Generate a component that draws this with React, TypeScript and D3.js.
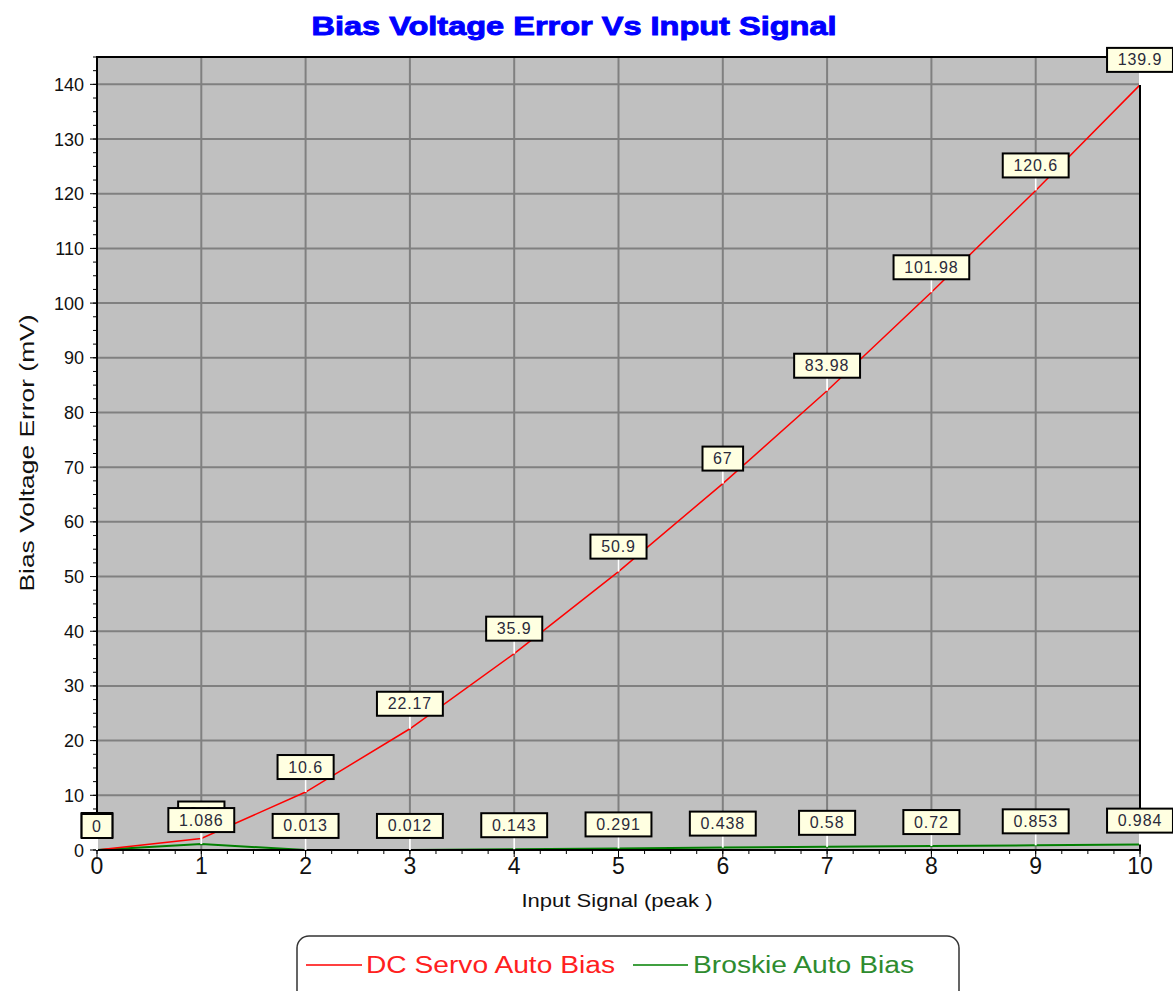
import React from "react";
import * as d3 from "d3";

const xValues = [0, 1, 2, 3, 4, 5, 6, 7, 8, 9, 10];
const dcServo = [0, 2.1, 10.6, 22.17, 35.9, 50.9, 67, 83.98, 101.98, 120.6, 139.9];
const dcServoLabels = ["0", "2.1", "10.6", "22.17", "35.9", "50.9", "67", "83.98", "101.98", "120.6", "139.9"];
const broskie = [0, 1.086, 0.013, 0.012, 0.143, 0.291, 0.438, 0.58, 0.72, 0.853, 0.984];
const broskieLabels = ["0", "1.086", "0.013", "0.012", "0.143", "0.291", "0.438", "0.58", "0.72", "0.853", "0.984"];
const yTicks = [0, 10, 20, 30, 40, 50, 60, 70, 80, 90, 100, 110, 120, 130, 140];
const xTicks = [0, 1, 2, 3, 4, 5, 6, 7, 8, 9, 10];

const W = 1173;
const H = 991;
const L = 97, R = 1140, T = 57, B = 850;

const x = d3.scaleLinear().domain([0, 10]).range([L, R]);
const y = d3.scaleLinear().domain([0, 145]).range([B, T]);

const FONT = "'Liberation Sans', Arial, sans-serif";

function labelWidth(s: string) {
  let w = 21;
  for (const c of s) w += c === "." ? 5.7 : 9.8;
  return w;
}

function Labels({ vals, labels, off }: { vals: number[]; labels: string[]; off: number }) {
  return (
    <g>
      {vals.map((v, i) => {
        const px = x(xValues[i]);
        const py = y(v);
        const w = labelWidth(labels[i]);
        const bh = 24;
        const bottom = py - off;
        return (
          <g key={i}>
            <line x1={px} x2={px} y1={bottom} y2={py} stroke="#fff" strokeWidth={2} />
            <rect x={px - w / 2} y={bottom - bh} width={w} height={bh} fill="#FFFFE1" stroke="#000" strokeWidth={2} />
            <text x={px} y={bottom - 6.5} textAnchor="middle" fontFamily={FONT} fontSize={16} letterSpacing={0.9} fill="#2a2a3a">
              {labels[i]}
            </text>
          </g>
        );
      })}
    </g>
  );
}

export default function App() {
  const line = d3
    .line<number>()
    .x((_, i) => x(xValues[i]))
    .y((d) => y(d));
  const yMinor = d3.range(0, 145.01, 2.5);
  const xMinor = d3.range(0, 10.001, 0.25);
  return (
    <svg width={W} height={H} style={{ position: "absolute", left: 0, top: 0, background: "#fff" }}>
      <text x={574} y={35} textAnchor="middle" fontFamily={FONT} fontWeight={900} fontSize={25} fill="#0000FF" textLength={525} lengthAdjust="spacingAndGlyphs" stroke="#0000FF" strokeWidth={0.9}>
        Bias Voltage Error Vs Input Signal
      </text>
      <rect x={L} y={T} width={R - L} height={B - T} fill="#C0C0C0" />
      {yTicks.map((t) => (
        <line key={"gy" + t} x1={L} x2={R} y1={y(t)} y2={y(t)} stroke="#808080" strokeWidth={2} />
      ))}
      {xTicks.map((t) => (
        <line key={"gx" + t} x1={x(t)} x2={x(t)} y1={T} y2={B} stroke="#808080" strokeWidth={2} />
      ))}
      <path d={line(broskie) || ""} fill="none" stroke="#008000" strokeWidth={2} />
      <path d={line(dcServo) || ""} fill="none" stroke="#FF0000" strokeWidth={1.5} />
      <rect x={L} y={T} width={R - L} height={B - T} fill="none" stroke="#000" strokeWidth={2} />
      {yMinor.map((t, i) => (
        <line key={"ym" + i} x1={L - 4} x2={L} y1={y(t)} y2={y(t)} stroke="#000" strokeWidth={1} />
      ))}
      {yTicks.map((t) => (
        <g key={"yt" + t}>
          <line x1={L - 7} x2={L} y1={y(t)} y2={y(t)} stroke="#000" strokeWidth={1} />
          <text x={84} y={y(t) + 6.5} textAnchor="end" fontFamily={FONT} fontSize={18} fill="#111">
            {t}
          </text>
        </g>
      ))}
      {xMinor.map((t, i) => (
        <line key={"xm" + i} x1={x(t)} x2={x(t)} y1={B} y2={B + 4} stroke="#000" strokeWidth={1} />
      ))}
      {xTicks.map((t) => (
        <g key={"xt" + t}>
          <line x1={x(t)} x2={x(t)} y1={B} y2={B + 7} stroke="#000" strokeWidth={1} />
          <text x={x(t)} y={874} textAnchor="middle" fontFamily={FONT} fontSize={23} fill="#111">
            {t}
          </text>
        </g>
      ))}
      <Labels vals={dcServo} labels={dcServoLabels} off={13} />
      <Labels vals={broskie} labels={broskieLabels} off={12} />
      <text x={617} y={907} textAnchor="middle" fontFamily={FONT} fontSize={18} fill="#111" textLength={191} lengthAdjust="spacingAndGlyphs">
        Input Signal (peak )
      </text>
      <text transform={`translate(34,${453}) rotate(-90)`} textAnchor="middle" fontFamily={FONT} fontSize={20} fill="#111" textLength={277} lengthAdjust="spacingAndGlyphs">
        Bias Voltage Error (mV)
      </text>
      <rect x={297} y={936} width={662} height={80} rx={12} fill="#fff" stroke="#333" strokeWidth={1.5} />
      <line x1={306} x2={362} y1={965} y2={965} stroke="#FF0000" strokeWidth={1.5} />
      <text x={366} y={973} fontFamily={FONT} fontSize={23} fill="#FF2020" textLength={249} lengthAdjust="spacingAndGlyphs">
        DC Servo Auto Bias
      </text>
      <line x1={633} x2={688} y1={965} y2={965} stroke="#008000" strokeWidth={1.5} />
      <text x={693} y={973} fontFamily={FONT} fontSize={23} fill="#2E8B2E" textLength={221} lengthAdjust="spacingAndGlyphs">
        Broskie Auto Bias
      </text>
    </svg>
  );
}
